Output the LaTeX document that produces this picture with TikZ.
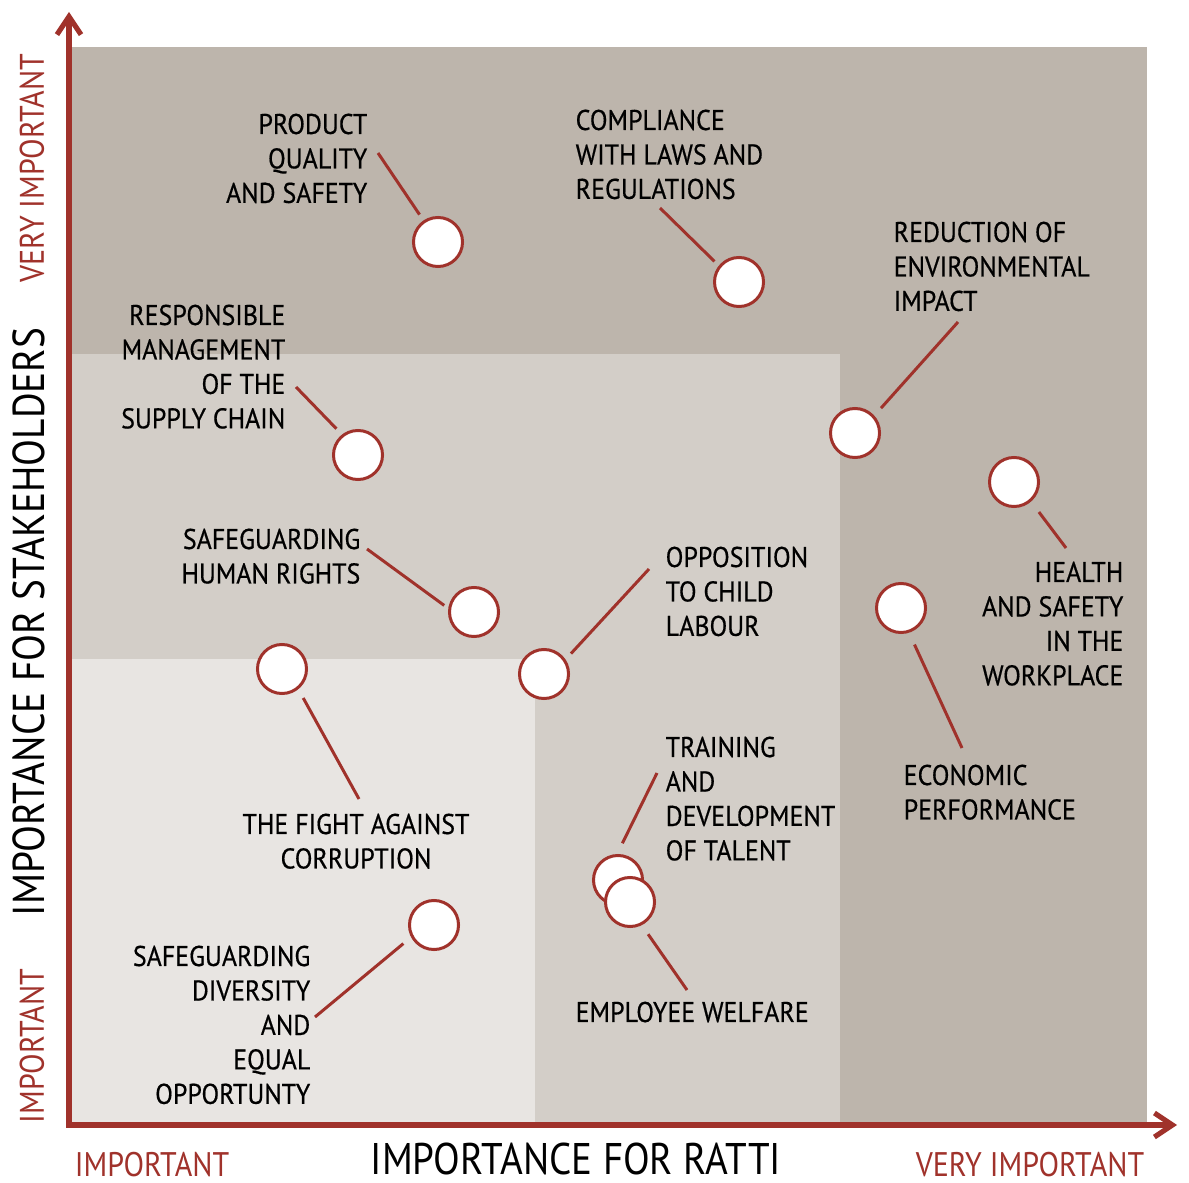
\documentclass[tikz,border=0pt]{standalone}
\usepackage{fontspec}
\setmainfont{PT Sans}[FakeStretch=0.88]
\newfontfamily\topicfont{PT Sans}[FakeStretch=0.91, FakeBold=0.5]
\usetikzlibrary{arrows.meta}
\definecolor{rattired}{RGB}{160,50,43}
\definecolor{zonedark}{RGB}{189,181,172}
\definecolor{zonemid}{RGB}{211,206,200}
\definecolor{zonelight}{RGB}{232,229,226}

\begin{document}
\begin{tikzpicture}[x=0.01cm, y=-0.01cm,
        dot/.style={circle, draw=rattired, fill=white, line width=0.85pt, minimum size=0.49cm, inner sep=0pt},
        topic/.style={inner sep=0pt, font=\topicfont\fontsize{8.1}{9.8}\selectfont},
        leader/.style={draw=rattired, line width=0.85pt},
        axis/.style={draw=rattired, line width=1.45pt, -{Straight Barb[length=1.8mm, width=2.4mm]}},
        level/.style={text=rattired, inner sep=0pt, font=\fontsize{9.7}{11}\selectfont},
        title/.style={inner sep=0pt}
    ]
        \useasboundingbox (0,0) rectangle (1189,1183);

        % Zones
        \fill[zonedark] (72,47) rectangle (1147,1122);
        \fill[zonemid] (72,354) rectangle (840,1122);
        \fill[zonelight] (72,659) rectangle (535,1122);

        % Axes
        \coordinate (origin) at (69,1125);
        \coordinate (ytop) at (69,12);
        \coordinate (xend) at (1177,1125);
        \draw[axis, line cap=rect] (origin) -- (ytop);
        \draw[axis, line cap=rect] (origin) -- (xend);

        \node[level, rotate=90] (yvery) at (32,168) {VERY IMPORTANT};
        \node[level, rotate=90] (ylow) at (32,1046) {IMPORTANT};
        \node[title, rotate=90, font=\fontsize{12.7}{14}\selectfont] (ytitle) at (29,622) {IMPORTANCE FOR STAKEHOLDERS};
        \node[level] (xlow) at (152,1165) {IMPORTANT};
        \node[level] (xvery) at (1030,1165) {VERY IMPORTANT};
        \node[title, font=\fontsize{12.6}{14}\selectfont] (xtitle) at (576,1159) {IMPORTANCE FOR RATTI};

        % Topics
        \node[dot] (quality) at (438,242) {};
        \node[dot] (laws) at (739,282) {};
        \node[dot] (environment) at (855,433) {};
        \node[dot] (supply) at (358,455) {};
        \node[dot] (health) at (1014,482) {};
        \node[dot] (rights) at (474,612) {};
        \node[dot] (child) at (544,674) {};
        \node[dot] (economic) at (901,608) {};
        \node[dot] (corruption) at (282,669) {};
        \node[dot] (talent) at (618,880) {};
        \node[dot] (welfare) at (630,902) {};
        \node[dot] (diversity) at (434,925) {};

        % Labels
        \node[topic, anchor=north east, align=right] (lblquality) at (368,113) {PRODUCT\\QUALITY\\AND SAFETY};
        \node[topic, anchor=north west, align=left] (lbllaws) at (575,109) {COMPLIANCE\\WITH LAWS AND\\REGULATIONS};
        \node[topic, anchor=north west, align=left] (lblenvironment) at (893,221) {REDUCTION OF\\ENVIRONMENTAL\\IMPACT};
        \node[topic, anchor=north east, align=right] (lblsupply) at (286,304) {RESPONSIBLE\\MANAGEMENT\\OF THE\\SUPPLY CHAIN};
        \node[topic, anchor=north east, align=right] (lblhealth) at (1124,561) {HEALTH\\AND SAFETY\\IN THE\\WORKPLACE};
        \node[topic, anchor=north east, align=right] (lblrights) at (361,528) {SAFEGUARDING\\HUMAN RIGHTS};
        \node[topic, anchor=north west, align=left] (lblchild) at (665,546) {OPPOSITION\\TO CHILD\\LABOUR};
        \node[topic, anchor=north west, align=left] (lbleconomic) at (903,764) {ECONOMIC\\PERFORMANCE};
        \node[topic, anchor=north, align=center] (lblcorruption) at (356,813) {THE FIGHT AGAINST\\CORRUPTION};
        \node[topic, anchor=north west, align=left] (lbltalent) at (665,736) {TRAINING\\AND\\DEVELOPMENT\\OF TALENT};
        \node[topic, anchor=north west] (lblwelfare) at (575,1001) {EMPLOYEE WELFARE};
        \node[topic, anchor=north east, align=right] (lbldiversity) at (311,945) {SAFEGUARDING\\DIVERSITY\\AND\\EQUAL\\OPPORTUNTY};

        % Leaders
        \coordinate (pquality) at (378,153);
        \coordinate (plaws) at (660,208);
        \coordinate (penvironment) at (958,322);
        \coordinate (psupply) at (296,387);
        \coordinate (phealth) at (1066,548);
        \coordinate (prights) at (367,549);
        \coordinate (pchild) at (649,569);
        \coordinate (peconomic) at (962,748);
        \coordinate (pcorruption) at (359,799);
        \coordinate (ptalent) at (657,773);
        \coordinate (pwelfare) at (687,990);
        \coordinate (pdiversity) at (315,1017);

        \draw[leader, shorten >=0.07cm] (pquality) -- (quality.124);
        \draw[leader, shorten >=0.06cm] (plaws) -- (laws.141);
        \draw[leader, shorten >=0.10cm] (penvironment) -- (environment.42);
        \draw[leader, shorten >=0.08cm] (psupply) -- (supply.128);
        \draw[leader, shorten >=0.13cm] (phealth) -- (health.311);
        \draw[leader, shorten >=0.05cm] (prights) -- (rights.172);
        \draw[leader, shorten >=0.08cm] (pchild) -- (child.34);
        \draw[leader, shorten >=0.13cm] (peconomic) -- (economic.288);
        \draw[leader, shorten >=0.10cm] (pcorruption) -- (corruption.309);
        \draw[leader, shorten >=0.12cm] (ptalent) -- (talent.92);
        \draw[leader, shorten >=0.11cm] (pwelfare) -- (welfare.297);
        \draw[leader, shorten >=0.10cm] (pdiversity) -- (diversity.208);
    \end{tikzpicture}
\end{document}
